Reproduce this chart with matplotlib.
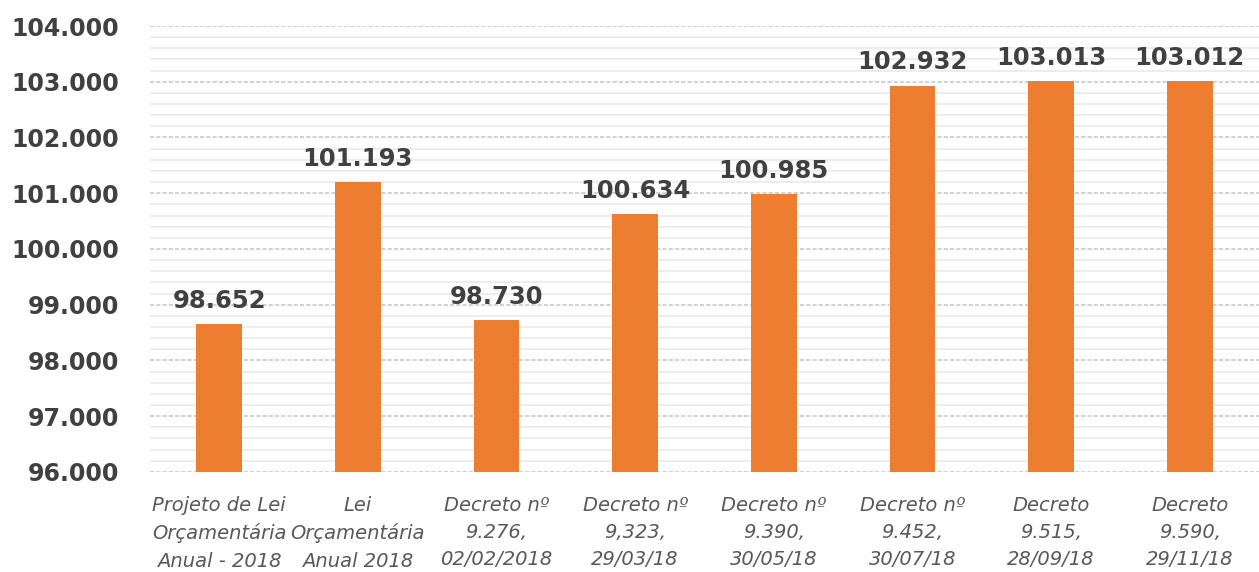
import matplotlib.pyplot as plt
from matplotlib.ticker import MultipleLocator, FuncFormatter

# dados (valores em milhares, convenção pt-BR)
categorias = [
    "Projeto de Lei\nOrçamentária\nAnual - 2018",
    "Lei\nOrçamentária\nAnual 2018",
    "Decreto nº\n9.276,\n02/02/2018",
    "Decreto nº\n9,323,\n29/03/18",
    "Decreto nº\n9.390,\n30/05/18",
    "Decreto nº\n9.452,\n30/07/18",
    "Decreto\n9.515,\n28/09/18",
    "Decreto\n9.590,\n29/11/18",
]
valores = [98652, 101193, 98730, 100634, 100985, 102932, 103013, 103012]


def br(v, pos=None):
    return f"{v:,.0f}".replace(",", ".")


fig = plt.figure(figsize=(12.59, 5.72), dpi=100)
ax = fig.add_axes([0.119, 0.175, 0.881, 0.7795])

x = range(len(valores))
ax.bar(x, valores, width=0.33, color="#ED7D31", zorder=3)

for xi, v in zip(x, valores):
    ax.annotate(br(v), (xi, v), xytext=(0, 8), textcoords="offset points",
                ha="center", va="bottom", fontsize=17.5, fontweight="bold",
                color="#404040")

ax.set_ylim(96000, 104000)
ax.set_xlim(-0.5, len(valores) - 0.5)
ax.yaxis.set_major_locator(MultipleLocator(1000))
ax.yaxis.set_minor_locator(MultipleLocator(200))
ax.yaxis.set_major_formatter(FuncFormatter(br))
ax.grid(axis="y", which="major", color="#d2d2d2", linestyle=(0, (2, 1)), linewidth=1.5, zorder=0)
ax.grid(axis="y", which="minor", color="#ededed", linestyle="-", linewidth=1.5, zorder=0)

ax.set_xticks(list(x))
ax.set_xticklabels(categorias, fontsize=14, style="italic", color="#595959", linespacing=1.55)
for lbl in ax.get_yticklabels():
    lbl.set_fontweight("bold")
ax.tick_params(axis="y", which="both", length=0, labelsize=17, labelcolor="#404040", pad=22)
ax.tick_params(axis="x", length=0, pad=17)
for s in ax.spines.values():
    s.set_visible(False)

fig.savefig("out.png", dpi=100)
